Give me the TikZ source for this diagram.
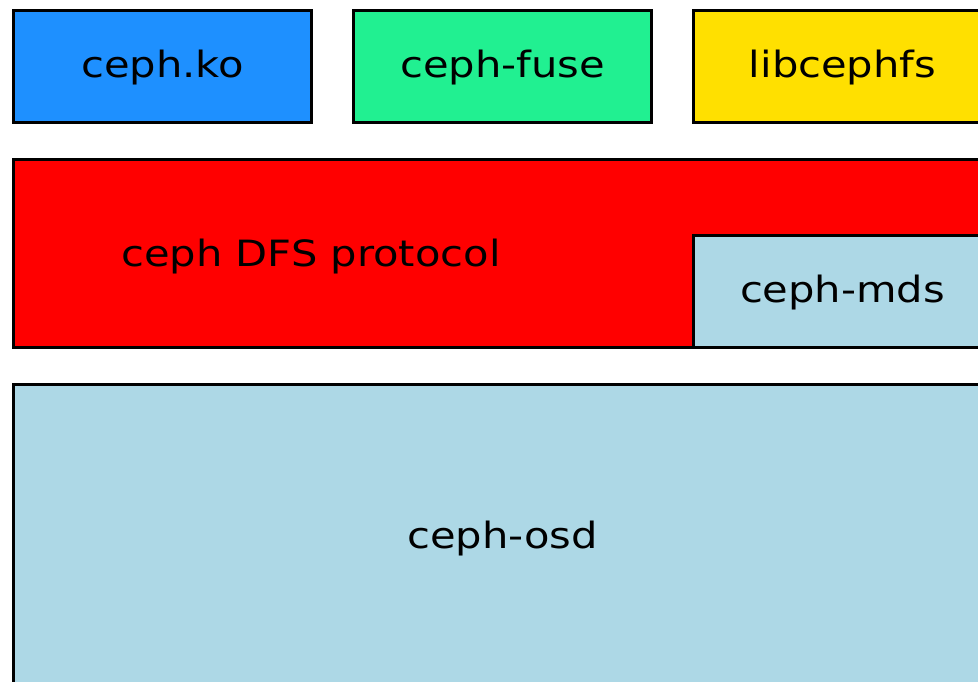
\documentclass[tikz,border=0pt]{standalone}
\usepackage{fontspec}
\setmainfont{DejaVu Sans}
\usepackage{graphicx}
\usepackage{tikz}

\definecolor{kobox}{RGB}{30,144,255}
\definecolor{fusebox}{RGB}{33,240,145}
\definecolor{libbox}{RGB}{255,224,0}
\definecolor{protobox}{RGB}{255,0,0}
\definecolor{daemonbox}{RGB}{173,216,230}

% the text in the boxes is drawn a bit wider than tall
\newcommand{\boxtext}[1]{\scalebox{1.15}[1]{#1}}

\tikzset{
  layer/.style={draw=black, line width=1.7pt, inner sep=0pt,
    font=\fontsize{20.6}{24}\selectfont, text height=14.8pt, text depth=2.2pt},
  small layer/.style={layer, minimum width=5.98cm, minimum height=2.26cm},
  label/.style={inner sep=0pt, font=\fontsize{20.6}{24}\selectfont,
    text height=14.8pt, text depth=2.2pt}
}

\begin{document}
\begin{tikzpicture}[x=0.02cm, y=-0.02cm]
        \useasboundingbox (0,0) rectangle (978,682);
        \clip (0,0) rectangle (978,682);
        % top row: the clients
        \node[small layer, fill=kobox] (ko) at (162.5,66.5) {\boxtext{ceph.ko}};
        \node[small layer, fill=fusebox] (fuse) at (502.5,66.5) {\boxtext{ceph-fuse}};
        \node[small layer, fill=libbox] (lib) at (842.5,66.5) {\boxtext{libcephfs}};
        % protocol layer with the mds inside
        \node[layer, fill=protobox, minimum width=19.58cm, minimum height=3.78cm] (proto) at (502.5,253.5) {};
        \node[label] (protolabel) at (311,255) {\boxtext{ceph DFS protocol}};
        \node[small layer, fill=daemonbox] (mds) at (842.5,291.5) {\boxtext{ceph-mds}};
        % storage
        \node[layer, fill=daemonbox, minimum width=19.58cm, minimum height=6.12cm] (osd) at (502.5,537) {\boxtext{ceph-osd}};
    \end{tikzpicture}
\end{document}
